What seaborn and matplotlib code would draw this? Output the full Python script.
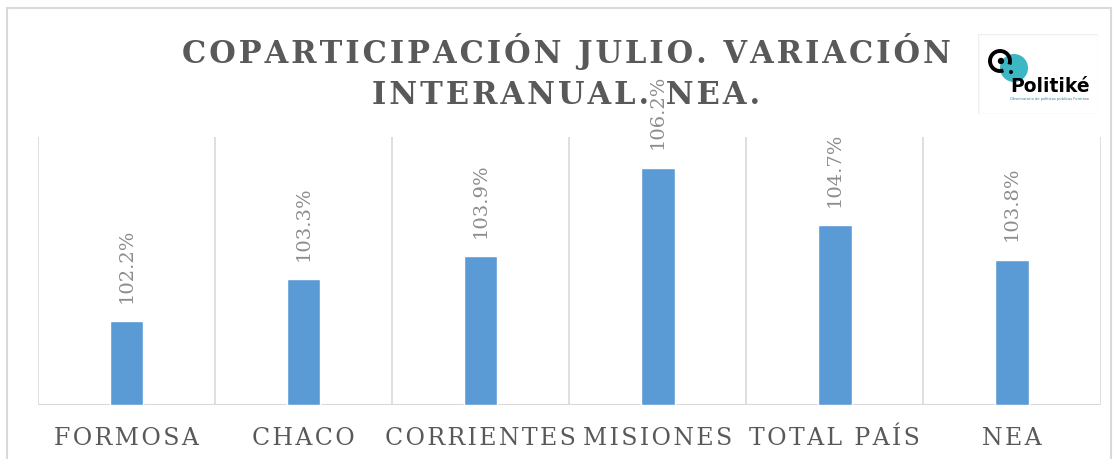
import numpy as np
import pandas as pd
import seaborn as sns
import matplotlib.pyplot as plt
from matplotlib.patches import Circle, Rectangle, Arc

categories = ["FORMOSA", "CHACO", "CORRIENTES", "MISIONES", "TOTAL PAÍS", "NEA"]
values = [102.2, 103.3, 103.9, 106.2, 104.7, 103.8]
labels = ["102.2%", "103.3%", "103.9%", "106.2%", "104.7%", "103.8%"]
title_lines = ["COPARTICIPACIÓN JULIO. VARIACIÓN", "INTERANUAL. NEA."]

sns.set_style("white")
plt.rcParams["font.family"] = ["DejaVu Serif"]


def spaced(s, sep="\u200a"):
    # fake letter spacing
    return sep.join(s)


df = pd.DataFrame({"cat": categories, "val": values})

fig = plt.figure(figsize=(11.15, 4.6), dpi=100)
ax = fig.add_axes([0.034, 0.117, 0.953, 0.583])

bottom = 100
sns.barplot(data=df, x="cat", y=df["val"] - bottom, color="#5B9BD5",
            width=0.19, saturation=1, ax=ax)
ax.set_ylim(0, 7)
ax.set_xlim(-0.5, len(categories) - 0.5)

for i in range(len(categories) + 1):
    ax.axvline(i - 0.5, color="#d9d9d9", lw=1.2, zorder=0)
ax.axhline(0, color="#d9d9d9", lw=1.5, zorder=0)

for i, (v, lab) in enumerate(zip(values, labels)):
    ax.text(i, v - bottom + 0.5, lab, rotation=90, ha="center", va="bottom",
            fontsize=14, color="#8c8c8c", clip_on=False)

for s in ax.spines.values():
    s.set_visible(False)
ax.set_yticks([])
ax.set_xlabel("")
ax.set_ylabel("")
ax.tick_params(axis="x", length=0, pad=15)
ax.set_xticks(range(len(categories)))
ax.set_xticklabels([spaced(c) for c in categories], fontsize=17, color="#595959")

fig.text(0.508, 0.889, spaced(title_lines[0]), ha="center", va="center",
         fontsize=22, fontweight="bold", color="#595959")
fig.text(0.508, 0.793, spaced(title_lines[1]), ha="center", va="center",
         fontsize=22, fontweight="bold", color="#595959")

# outer border
fig.patches.append(Rectangle((0.006, -0.01), 0.99, 0.99, transform=fig.transFigure,
                             fill=False, edgecolor="#d9d9d9", lw=1.5))

# logo, drawn in pixel units
lax = fig.add_axes([978 / 1115, 1 - 115 / 460, 120 / 1115, 80 / 460])
lax.set_xlim(0, 120)
lax.set_ylim(0, 80)
lax.axis("off")
lax.add_patch(Rectangle((0, 0), 120, 80, facecolor="white", edgecolor="#efefef", lw=1))
lax.add_patch(Circle((36, 46), 14, facecolor="#3bb8c3", edgecolor="none"))
lax.add_patch(Arc((22, 53), 20, 20, theta1=-20, theta2=290, color="black", lw=2.8))
lax.add_patch(Circle((23, 53), 3.2, facecolor="black", edgecolor="none"))
lax.add_patch(Circle((33, 42), 2, facecolor="black", edgecolor="none"))
lax.text(32, 23, "Politiké", fontsize=13.5, fontweight="bold", family="DejaVu Sans",
         color="black", ha="left", va="baseline")
lax.text(32, 16, "Observatorio de políticas públicas Formosa", fontsize=2.6,
         family="DejaVu Sans", color="#2b7fa0", ha="left", va="center")

fig.savefig("out.png", dpi=100, facecolor="white")
